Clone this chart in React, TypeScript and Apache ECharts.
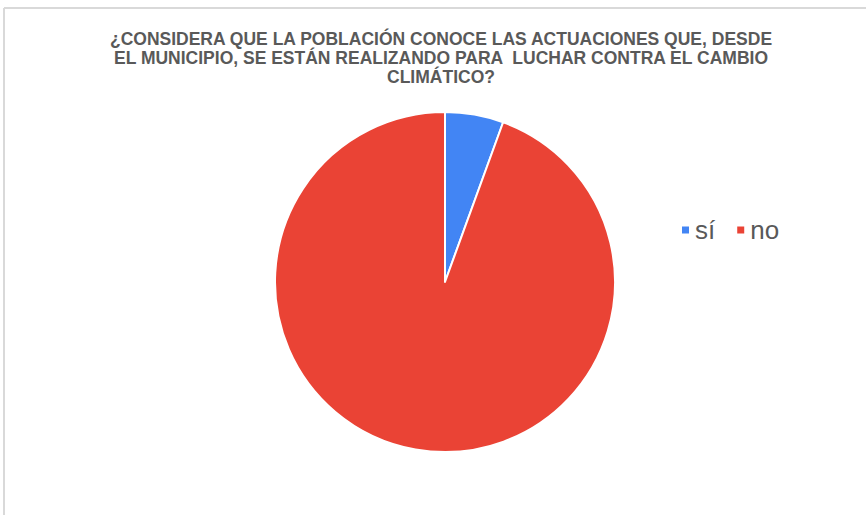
import React, { useEffect, useRef } from "react";
import * as echarts from "echarts";

const categories = ["sí", "no"];
const values = [1, 17];
const colors = ["#4285F4", "#EA4335"];
const titleLines = [
  "¿CONSIDERA QUE LA POBLACIÓN CONOCE LAS ACTUACIONES QUE, DESDE",
  "EL MUNICIPIO, SE ESTÁN REALIZANDO PARA  LUCHAR CONTRA EL CAMBIO",
  "CLIMÁTICO?",
];

export default function App() {
  const ref = useRef<HTMLDivElement>(null);
  useEffect(() => {
    if (!ref.current) return;
    const chart = echarts.init(ref.current, undefined, { renderer: "svg" });
    chart.setOption({
      animation: false,
      backgroundColor: "#ffffff",
      color: colors,
      legend: {
        data: categories,
        left: 675,
        top: 212,
        icon: "rect",
        itemWidth: 9,
        itemHeight: 9,
        itemGap: 20,
        textStyle: { fontSize: 26, color: "#595959", fontFamily: "Liberation Sans" },
      },
      graphic: [
        {
          type: "line",
          shape: { x1: 4, y1: 8, x2: 866, y2: 8 },
          style: { stroke: "#d9d9d9", lineWidth: 2 },
        },
        {
          type: "line",
          shape: { x1: 4, y1: 8, x2: 4, y2: 515 },
          style: { stroke: "#d9d9d9", lineWidth: 2 },
        },
        {
          type: "text",
          x: 441,
          y: 29,
          style: {
            text: titleLines.join("\n"),
            textAlign: "center",
            textVerticalAlign: "top",
            fill: "#595959",
            font: "bold 17.5px 'Liberation Sans'",
            lineHeight: 19,
          },
        },
      ],
      series: [
        {
          type: "pie",
          center: [445, 282],
          radius: 170,
          startAngle: 90,
          clockwise: true,
          label: { show: false },
          labelLine: { show: false },
          itemStyle: { borderColor: "#ffffff", borderWidth: 2 },
          data: categories.map((c, i) => ({ name: c, value: values[i] })),
        },
      ],
    });
    return () => chart.dispose();
  }, []);
  return (
    <div
      ref={ref}
      style={{ position: "fixed", left: 0, top: 0, width: 866, height: 515 }}
    />
  );
}
